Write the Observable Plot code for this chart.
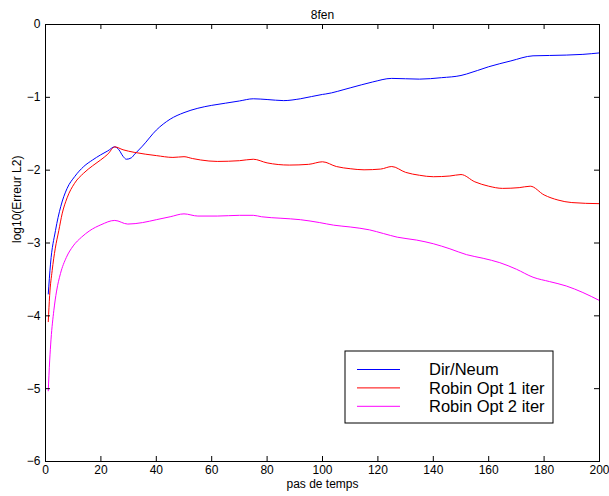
<!DOCTYPE html>
<html><head><meta charset="utf-8">
<script src="https://cdn.jsdelivr.net/npm/d3@7"></script>
<script src="https://cdn.jsdelivr.net/npm/@observablehq/plot@0.6"></script>
<style>body{margin:0;background:#fff} svg{font-family:"Liberation Sans",Arial,sans-serif}</style>
</head><body><div id="chart"></div>
<script>
const titleText = "8fen";
const xLabel = "pas de temps";
const yLabel = "log10(Erreur L2)";
const seriesNames = ["Dir/Neum", "Robin Opt 1 iter", "Robin Opt 2 iter"];
const seriesColors = ["#0000ff", "#ff0000", "#ff00ff"];
const xTicks = [0, 20, 40, 60, 80, 100, 120, 140, 160, 180, 200];
const yTicks = [-6, -5, -4, -3, -2, -1, 0];

const blueX = [1, 1.8, 3.6, 5.5, 7.8, 10.5, 13.8, 17, 19.9, 22.5, 25, 26.5, 28, 29.2, 31, 32.2, 35, 40, 45, 50, 55, 60, 65, 70, 75, 80, 86, 92, 100, 101, 110, 118, 125, 130, 135, 143, 150, 152, 160, 168, 176, 182, 188, 194, 200];
const blueY = [-3.70, -3.29, -2.83, -2.50, -2.25, -2.09, -1.95, -1.86, -1.79, -1.735, -1.68, -1.72, -1.81, -1.85, -1.83, -1.78, -1.67, -1.45, -1.30, -1.21, -1.15, -1.11, -1.08, -1.05, -1.02, -1.03, -1.045, -1.02, -0.96, -0.955, -0.87, -0.79, -0.74, -0.745, -0.75, -0.73, -0.70, -0.68, -0.58, -0.50, -0.43, -0.425, -0.42, -0.41, -0.39];

const redX = [1, 1.5, 2.4, 3.5, 4.8, 6, 7.8, 10.5, 13.8, 17, 19.9, 22.5, 25, 28, 32, 36, 40, 46, 50, 53, 56, 62, 70, 75, 80, 88, 95, 100, 105, 110, 115, 121, 125, 130, 135, 140, 146, 150, 155, 160, 165, 171, 175, 180, 185, 190, 200];
const redY = [-4.08, -3.72, -3.38, -3.08, -2.83, -2.60, -2.38, -2.18, -2.04, -1.94, -1.86, -1.78, -1.68, -1.72, -1.755, -1.78, -1.80, -1.825, -1.815, -1.84, -1.86, -1.88, -1.87, -1.85, -1.90, -1.93, -1.92, -1.885, -1.95, -1.98, -1.995, -1.985, -1.95, -2.03, -2.07, -2.09, -2.08, -2.06, -2.16, -2.22, -2.25, -2.24, -2.22, -2.34, -2.41, -2.445, -2.46];

const magX = [1, 1.5, 2, 3, 4, 5.4, 7.5, 10, 13, 16, 20, 25, 29.7, 35, 40, 45, 50, 55, 62, 70, 75, 78, 85, 92, 99, 104, 110, 117, 122, 127, 134, 140, 146, 152, 158, 164, 170, 176, 182, 188, 194, 200];
const magY = [-5.03, -4.62, -4.32, -3.93, -3.66, -3.42, -3.20, -3.04, -2.92, -2.83, -2.75, -2.69, -2.74, -2.72, -2.68, -2.64, -2.60, -2.63, -2.63, -2.62, -2.62, -2.64, -2.66, -2.68, -2.72, -2.755, -2.78, -2.82, -2.87, -2.92, -2.96, -3.01, -3.08, -3.16, -3.21, -3.27, -3.36, -3.47, -3.53, -3.59, -3.68, -3.79];

const seriesXs = [blueX, redX, magX];
const seriesYs = [blueY, redY, magY];
const data = seriesNames.flatMap((name, i) => seriesXs[i].map((x, j) => ({series: name, x, y: seriesYs[i][j]})));

const W = 609, H = 496, mL = 45, mR = 10, mT = 24, mB = 35;
const innerW = W - mL - mR, innerH = H - mT - mB;
const tk = 5;
const fmtY = d => d < 0 ? "\u2212" + Math.abs(d) : String(d);

const chart = Plot.plot({
  width: W, height: H,
  marginLeft: mL, marginRight: mR, marginTop: mT, marginBottom: mB,
  style: {fontFamily: "Liberation Sans, Arial, sans-serif", fontSize: "12px", background: "white", color: "black", overflow: "visible"},
  x: {domain: [0, 200]},
  y: {domain: [-6, 0]},
  color: {domain: seriesNames, range: seriesColors},
  marks: [
    Plot.line(data, {x: "x", y: "y", z: "series", stroke: "series", strokeWidth: 1, curve: "monotone-x"}),
    Plot.frame({stroke: "black", strokeWidth: 1}),
    Plot.tickX(xTicks, {x: d => d, insetTop: innerH - tk, stroke: "black"}),
    Plot.tickX(xTicks, {x: d => d, insetBottom: innerH - tk, stroke: "black"}),
    Plot.tickY(yTicks, {y: d => d, insetRight: innerW - tk, stroke: "black"}),
    Plot.tickY(yTicks, {y: d => d, insetLeft: innerW - tk, stroke: "black"}),
    Plot.axisX(xTicks, {tickSize: 0, tickPadding: 4, label: null, fontSize: 12}),
    Plot.axisY(yTicks, {tickSize: 0, tickPadding: 5, label: null, fontSize: 12, tickFormat: fmtY}),
    Plot.text([titleText], {frameAnchor: "top", dy: -14, fontSize: 12}),
    Plot.text([xLabel], {frameAnchor: "bottom", dy: 26, fontSize: 12}),
    Plot.text([yLabel], {frameAnchor: "left", rotate: -90, dx: -28, fontSize: 12})
  ]
});
document.getElementById("chart").appendChild(chart);

// legend inside plot area
const svg = d3.select(chart);
const lg = svg.append("g").attr("transform", "translate(345,351)").attr("text-anchor", "start");
lg.append("rect").attr("width", 208).attr("height", 72).attr("fill", "white").attr("stroke", "black").attr("stroke-width", 1);
seriesNames.forEach((name, i) => {
  const yy = 18.5 + i * 18.4;
  lg.append("line").attr("x1", 12).attr("x2", 55).attr("y1", yy).attr("y2", yy).attr("stroke", seriesColors[i]).attr("stroke-width", 1);
  lg.append("text").attr("x", 84).attr("y", yy).attr("dy", "0.36em").attr("text-anchor", "start")
    .attr("font-size", 16.5).attr("font-family", "Liberation Sans, Arial, sans-serif").attr("fill", "black").text(name);
});
</script>
</body></html>
